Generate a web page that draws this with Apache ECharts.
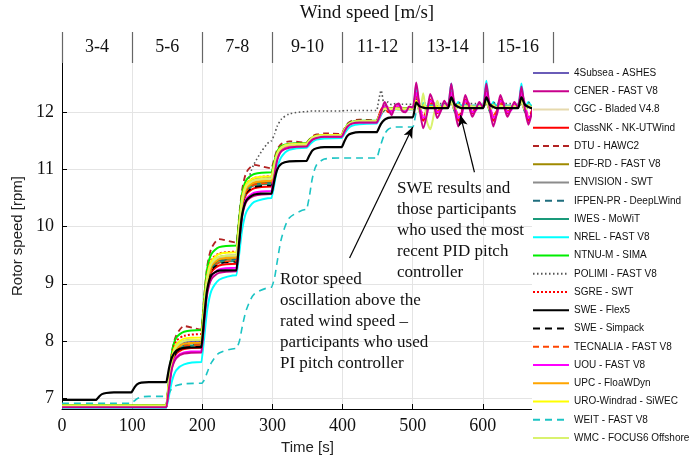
<!DOCTYPE html>
<html><head><meta charset="utf-8">
<script src="https://cdn.jsdelivr.net/npm/echarts@6/dist/echarts.min.js"></script>
<style>html,body{margin:0;padding:0;background:#fff}#c{width:698px;height:462px}</style>
</head><body><div id="c"></div>
<script>
// ---------- data ----------
const T_LOW = [0,3,7,13,24,49, 50,53,57,63,74,99, 100,103,107,113,124,149,
 150,153,157,163,174,199, 200,203,207,213,224,249, 250,253,257,263,274,299,
 300,303,307,313,324,349, 350,353,357,363,374,399, 400,403,407,413,424,449];
const T_HIGH = [450,455,460,465,470,475,480,485,490,495,500,505,510,515,520,525,530,535,540,545,550,
 555,560,565,570,575,580,585,590,595,600,605,610,615,620,625,630,635,640,645,650,
 655,660,665,670,675,680,685,690,695,700];
const WIND_BINS = ['3-4','5-6','7-8','9-10','11-12','13-14','15-16'];
const Y_TICKS = [7,8,9,10,11,12];
const NAMES = ['4Subsea - ASHES','CENER - FAST V8','CGC - Bladed V4.8','ClassNK - NK-UTWind','DTU - HAWC2',
 'EDF-RD - FAST V8','ENVISION - SWT','IFPEN-PR - DeepLWind','IWES - MoWiT','NREL - FAST V8','NTNU-M - SIMA',
 'POLIMI - FAST V8','SGRE - SWT','SWE - Flex5','SWE - Simpack','TECNALIA - FAST V8','UOU - FAST V8',
 'UPC - FloaWDyn','URO-Windrad - SiWEC','WEIT - FAST V8','WMC - FOCUS6 Offshore'];

const S_4SUBSEA = [
 6.87,6.87,6.87,6.87,6.87,6.87, 6.87,6.87,6.87,6.87,6.87,6.87, 6.87,6.87,6.87,6.87,6.87,6.87,
 6.87,7.32,7.68,7.89,7.98,8.00, 8.00,8.58,9.04,9.31,9.42,9.45, 9.45,9.99,10.42,10.67,10.77,10.80,
 10.80,11.05,11.25,11.37,11.42,11.43, 11.43,11.49,11.54,11.57,11.58,11.58, 11.58,11.68,11.76,11.81,11.83,11.83,
 11.83,11.98,12.05,12.07,12.06,12.07,12.06,12.06,12.06,12.06,12.06,
 12.16,12.06,12.11,12.08,12.10,12.09,12.10,12.10,12.10,12.10,
 12.17,12.06,12.12,12.09,12.10,12.10,12.10,12.10,12.10,12.10,
 12.17,12.06,12.12,12.09,12.10,12.10,12.10,12.10,12.10,12.10,
 12.17,12.06,12.12,12.09,12.10,12.10,12.10,12.10,12.10,12.10];
const S_CENER = [
 6.84,6.84,6.84,6.84,6.84,6.84, 6.84,6.84,6.84,6.84,6.84,6.84, 6.84,6.84,6.84,6.84,6.84,6.84,
 6.84,7.22,7.53,7.70,7.78,7.80, 7.80,8.37,8.82,9.08,9.19,9.22, 9.22,9.76,10.19,10.44,10.54,10.57,
 10.57,10.90,11.17,11.32,11.38,11.40, 11.40,11.47,11.52,11.55,11.57,11.57, 11.57,11.67,11.75,11.80,11.82,11.82,
 11.82,12.00,12.18,12.05,11.95,12.12,12.15,12.02,12.00,12.10,12.08,
 12.52,12.05,11.72,11.95,12.32,12.15,11.90,12.02,12.20,12.10,
 12.50,12.05,11.75,11.98,12.30,12.12,11.92,12.05,12.18,12.08,
 12.50,12.05,11.75,11.98,12.30,12.12,11.92,12.05,12.18,12.08,
 12.45,12.05,11.78,12.00,12.28,12.12,11.94,12.06,12.16,12.08];
const S_CGC = [
 6.86,6.86,6.86,6.86,6.86,6.86, 6.86,6.86,6.86,6.86,6.86,6.86, 6.86,6.86,6.86,6.86,6.86,6.86,
 6.86,7.32,7.70,7.90,8.00,8.02, 8.02,8.60,9.07,9.33,9.45,9.48, 9.48,10.02,10.44,10.69,10.79,10.82,
 10.82,11.07,11.27,11.38,11.43,11.44, 11.44,11.50,11.55,11.58,11.59,11.59, 11.59,11.69,11.77,11.82,11.84,11.84,
 11.84,11.99,12.06,12.05,12.06,12.06,12.05,12.06,12.06,12.06,12.06,
 12.18,12.05,12.12,12.08,12.11,12.09,12.10,12.10,12.10,12.10,
 12.18,12.05,12.12,12.08,12.11,12.09,12.10,12.10,12.10,12.10,
 12.18,12.05,12.12,12.08,12.11,12.09,12.10,12.10,12.10,12.10,
 12.18,12.05,12.12,12.08,12.11,12.09,12.10,12.10,12.10,12.10];
const S_CLASSNK = [
 6.85,6.85,6.85,6.85,6.85,6.85, 6.85,6.85,6.85,6.85,6.85,6.85, 6.85,6.85,6.85,6.85,6.85,6.85,
 6.85,7.26,7.59,7.78,7.86,7.88, 7.88,8.47,8.94,9.20,9.32,9.35, 9.35,9.89,10.32,10.57,10.67,10.70,
 10.70,10.99,11.22,11.35,11.41,11.42, 11.42,11.48,11.53,11.56,11.58,11.58, 11.58,11.68,11.76,11.81,11.83,11.83,
 11.83,12.05,12.10,12.00,12.02,12.10,12.08,12.04,12.06,12.08,12.06,
 12.38,12.05,11.85,12.00,12.22,12.10,11.98,12.05,12.13,12.08,
 12.38,12.05,11.85,12.00,12.22,12.10,11.98,12.05,12.13,12.08,
 12.38,12.05,11.85,12.00,12.22,12.10,11.98,12.05,12.13,12.08,
 12.38,12.05,11.85,12.00,12.22,12.10,11.98,12.05,12.13,12.08];
const S_DTU = [
 6.87,6.87,6.87,6.87,6.87,6.87, 6.87,6.87,6.87,6.87,6.87,6.87, 6.87,6.87,6.87,6.87,6.87,6.87,
 6.87,7.40,7.83,8.10,8.26,8.20, 8.20,8.81,9.30,9.62,9.78,9.72, 9.72,10.24,10.66,10.95,11.08,11.02,
 11.02,11.20,11.35,11.45,11.49,11.47, 11.47,11.53,11.58,11.61,11.63,11.62, 11.62,11.72,11.80,11.85,11.87,11.86,
 11.86,12.00,12.08,12.06,12.07,12.07,12.07,12.07,12.07,12.07,12.07,
 12.20,12.04,12.13,12.08,12.11,12.10,12.10,12.10,12.10,12.10,
 12.20,12.04,12.13,12.08,12.11,12.10,12.10,12.10,12.10,12.10,
 12.20,12.04,12.13,12.08,12.11,12.10,12.10,12.10,12.10,12.10,
 12.20,12.04,12.13,12.08,12.11,12.10,12.10,12.10,12.10,12.10];
const S_EDF = [
 6.86,6.86,6.86,6.86,6.86,6.86, 6.86,6.86,6.86,6.86,6.86,6.86, 6.86,6.86,6.86,6.86,6.86,6.86,
 6.86,7.30,7.65,7.85,7.94,7.96, 7.96,8.55,9.03,9.29,9.41,9.44, 9.44,9.98,10.40,10.65,10.75,10.78,
 10.78,11.04,11.25,11.37,11.42,11.43, 11.43,11.49,11.54,11.57,11.58,11.58, 11.58,11.68,11.76,11.81,11.83,11.83,
 11.83,11.97,12.04,12.06,12.05,12.06,12.05,12.05,12.05,12.05,12.05,
 12.22,12.02,12.14,12.07,12.11,12.09,12.10,12.10,12.10,12.10,
 12.22,12.02,12.14,12.07,12.11,12.09,12.10,12.10,12.10,12.10,
 12.22,12.02,12.14,12.07,12.11,12.09,12.10,12.10,12.10,12.10,
 12.22,12.02,12.14,12.07,12.11,12.09,12.10,12.10,12.10,12.10];
const S_ENVISION = [
 6.87,6.87,6.87,6.87,6.87,6.87, 6.87,6.87,6.87,6.87,6.87,6.87, 6.87,6.87,6.87,6.87,6.87,6.87,
 6.87,7.33,7.70,7.90,8.00,8.02, 8.02,8.61,9.09,9.35,9.47,9.50, 9.50,10.04,10.47,10.72,10.82,10.85,
 10.85,11.09,11.27,11.38,11.43,11.44, 11.44,11.50,11.55,11.58,11.59,11.59, 11.59,11.69,11.77,11.82,11.84,11.84,
 11.84,11.99,12.06,12.07,12.06,12.07,12.06,12.06,12.06,12.06,12.06,
 12.15,12.07,12.11,12.09,12.10,12.10,12.10,12.10,12.10,12.10,
 12.15,12.07,12.11,12.09,12.10,12.10,12.10,12.10,12.10,12.10,
 12.15,12.07,12.11,12.09,12.10,12.10,12.10,12.10,12.10,12.10,
 12.15,12.07,12.11,12.09,12.10,12.10,12.10,12.10,12.10,12.10];
const S_IFPEN = [
 6.86,6.86,6.86,6.86,6.86,6.86, 6.86,6.86,6.86,6.86,6.86,6.86, 6.86,6.86,6.86,6.86,6.86,6.86,
 6.86,7.30,7.64,7.84,7.93,7.95, 7.95,8.54,9.01,9.27,9.39,9.42, 9.42,9.96,10.38,10.63,10.73,10.76,
 10.76,11.02,11.24,11.35,11.41,11.42, 11.42,11.48,11.53,11.56,11.58,11.58, 11.58,11.68,11.76,11.81,11.83,11.83,
 11.83,11.98,12.06,12.05,12.06,12.06,12.06,12.06,12.06,12.06,12.06,
 12.20,12.03,12.13,12.08,12.11,12.09,12.10,12.10,12.10,12.10,
 12.20,12.03,12.13,12.08,12.11,12.09,12.10,12.10,12.10,12.10,
 12.20,12.03,12.13,12.08,12.11,12.09,12.10,12.10,12.10,12.10,
 12.20,12.03,12.13,12.08,12.11,12.09,12.10,12.10,12.10,12.10];
const S_IWES = [
 6.86,6.86,6.86,6.86,6.86,6.86, 6.86,6.86,6.86,6.86,6.86,6.86, 6.86,6.86,6.86,6.86,6.86,6.86,
 6.86,7.28,7.62,7.81,7.90,7.92, 7.92,8.51,8.99,9.25,9.37,9.40, 9.40,9.94,10.37,10.62,10.72,10.75,
 10.75,11.02,11.23,11.35,11.41,11.42, 11.42,11.48,11.53,11.56,11.58,11.58, 11.58,11.68,11.76,11.81,11.83,11.83,
 11.83,11.98,12.05,12.07,12.05,12.06,12.06,12.06,12.06,12.06,12.06,
 12.25,12.00,12.15,12.06,12.12,12.09,12.10,12.10,12.10,12.10,
 12.25,12.00,12.15,12.06,12.12,12.09,12.10,12.10,12.10,12.10,
 12.25,12.00,12.15,12.06,12.12,12.09,12.10,12.10,12.10,12.10,
 12.25,12.00,12.15,12.06,12.12,12.09,12.10,12.10,12.10,12.10];
const S_NREL = [
 6.83,6.83,6.83,6.83,6.83,6.83, 6.83,6.83,6.83,6.83,6.83,6.83, 6.83,6.83,6.83,6.83,6.83,6.83,
 6.83,7.07,7.31,7.49,7.59,7.63, 7.63,8.09,8.54,8.88,9.07,9.15, 9.15,9.56,9.96,10.26,10.43,10.50,
 10.50,10.76,11.03,11.22,11.34,11.38, 11.38,11.43,11.48,11.52,11.54,11.55, 11.55,11.63,11.70,11.76,11.79,11.80,
 11.80,11.95,12.05,12.04,12.05,12.05,12.05,12.05,12.05,12.05,12.05,
 12.45,12.08,12.16,12.10,12.12,12.11,12.11,12.11,12.11,12.11,
 12.50,12.06,12.18,12.10,12.12,12.11,12.11,12.11,12.11,12.11,
 12.55,12.05,12.18,12.10,12.12,12.11,12.11,12.11,12.11,12.11,
 12.50,12.06,12.18,12.10,12.12,12.11,12.11,12.11,12.11,12.11];
const S_NTNU = [
 6.87,6.87,6.87,6.87,6.87,6.87, 6.87,6.87,6.87,6.87,6.87,6.87, 6.87,6.87,6.87,6.87,6.87,6.87,
 6.87,7.40,7.82,8.06,8.16,8.19, 8.19,8.78,9.26,9.52,9.64,9.67, 9.67,10.18,10.59,10.82,10.92,10.95,
 10.95,11.15,11.32,11.41,11.45,11.46, 11.46,11.52,11.56,11.59,11.60,11.60, 11.60,11.70,11.78,11.83,11.85,11.85,
 11.85,12.00,12.07,12.06,12.07,12.07,12.07,12.07,12.07,12.07,12.07,
 12.18,12.06,12.12,12.09,12.10,12.10,12.10,12.10,12.10,12.10,
 12.18,12.06,12.12,12.09,12.10,12.10,12.10,12.10,12.10,12.10,
 12.18,12.06,12.12,12.09,12.10,12.10,12.10,12.10,12.10,12.10,
 12.18,12.06,12.12,12.09,12.10,12.10,12.10,12.10,12.10,12.10];
const S_POLIMI = [
 6.85,6.85,6.85,6.85,6.85,6.85, 6.85,6.85,6.85,6.85,6.85,6.85, 6.85,6.85,6.85,6.85,6.85,6.85,
 6.85,7.30,7.66,7.87,7.96,7.98, 7.98,8.57,9.04,9.30,9.42,9.45, 9.45,9.95,10.35,10.70,11.10,11.50,
 11.50,11.62,11.76,11.88,11.97,12.01, 12.01,12.02,12.02,12.02,12.02,12.02, 12.02,12.03,12.03,12.03,12.03,12.03,
 12.03,12.38,12.10,12.18,12.13,12.15,12.14,12.14,12.14,12.14,12.14,
 12.25,12.12,12.17,12.15,12.15,12.15,12.15,12.15,12.15,12.15,
 12.25,12.12,12.17,12.15,12.15,12.15,12.15,12.15,12.15,12.15,
 12.25,12.12,12.17,12.15,12.15,12.15,12.15,12.15,12.15,12.15,
 12.25,12.12,12.17,12.15,12.15,12.15,12.15,12.15,12.15,12.15];
const S_SGRE = [
 6.86,6.86,6.86,6.86,6.86,6.86, 6.86,6.86,6.86,6.86,6.86,6.86, 6.86,6.86,6.86,6.86,6.86,6.86,
 6.86,7.36,7.77,8.00,8.09,8.12, 8.12,8.70,9.16,9.42,9.53,9.56, 9.56,10.09,10.51,10.75,10.85,10.88,
 10.88,11.11,11.29,11.39,11.44,11.45, 11.45,11.51,11.56,11.59,11.60,11.60, 11.60,11.70,11.77,11.82,11.84,11.84,
 11.84,12.02,12.08,12.02,12.04,12.08,12.06,12.05,12.06,12.07,12.06,
 12.30,12.08,11.92,12.02,12.18,12.10,12.00,12.06,12.12,12.08,
 12.30,12.08,11.92,12.02,12.18,12.10,12.00,12.06,12.12,12.08,
 12.30,12.08,11.92,12.02,12.18,12.10,12.00,12.06,12.12,12.08,
 12.30,12.08,11.92,12.02,12.18,12.10,12.00,12.06,12.12,12.08];
const S_SWE_FLEX5 = [
 6.97,6.97,6.97,6.97,6.97,6.97, 6.97,7.03,7.07,7.09,7.10,7.10, 7.10,7.18,7.24,7.27,7.28,7.28,
 7.28,7.55,7.72,7.83,7.88,7.89, 7.89,8.45,8.90,9.15,9.23,9.24, 9.24,9.78,10.22,10.46,10.56,10.58,
 10.58,10.82,11.00,11.10,11.14,11.15, 11.15,11.25,11.33,11.37,11.39,11.39, 11.39,11.50,11.59,11.63,11.65,11.65,
 11.65,11.80,11.87,11.90,11.91,11.91,11.91,11.91,11.91,11.91,11.91,
 12.17,12.10,12.08,12.07,12.07,12.07,12.07,12.07,12.07,12.07,
 12.26,12.13,12.09,12.07,12.07,12.07,12.07,12.07,12.07,12.07,
 12.26,12.13,12.09,12.07,12.07,12.07,12.07,12.07,12.07,12.07,
 12.26,12.13,12.09,12.07,12.07,12.07,12.07,12.07,12.07,12.07];
const S_SWE_SIMPACK = [
 6.86,6.86,6.86,6.86,6.86,6.86, 6.86,6.86,6.86,6.86,6.86,6.86, 6.86,6.86,6.86,6.86,6.86,6.86,
 6.86,7.28,7.61,7.80,7.88,7.90, 7.90,8.49,8.97,9.23,9.35,9.38, 9.38,9.92,10.34,10.59,10.69,10.72,
 10.72,11.00,11.22,11.35,11.41,11.42, 11.42,11.48,11.53,11.56,11.58,11.58, 11.58,11.68,11.76,11.81,11.83,11.83,
 11.83,11.98,12.04,12.05,12.05,12.05,12.05,12.05,12.05,12.05,12.05,
 12.24,12.12,12.08,12.07,12.07,12.07,12.07,12.07,12.07,12.07,
 12.24,12.12,12.08,12.07,12.07,12.07,12.07,12.07,12.07,12.07,
 12.24,12.12,12.08,12.07,12.07,12.07,12.07,12.07,12.07,12.07,
 12.24,12.12,12.08,12.07,12.07,12.07,12.07,12.07,12.07,12.07];
const S_TECNALIA = [
 6.86,6.86,6.86,6.86,6.86,6.86, 6.86,6.86,6.86,6.86,6.86,6.86, 6.86,6.86,6.86,6.86,6.86,6.86,
 6.86,7.29,7.63,7.82,7.91,7.93, 7.93,8.52,8.99,9.25,9.37,9.40, 9.40,9.94,10.38,10.62,10.73,10.76,
 10.76,11.02,11.24,11.35,11.41,11.42, 11.42,11.48,11.53,11.56,11.58,11.58, 11.58,11.68,11.76,11.81,11.83,11.83,
 11.83,12.00,12.06,12.03,12.05,12.07,12.06,12.06,12.06,12.06,12.06,
 12.26,12.10,11.95,12.03,12.15,12.10,12.02,12.07,12.11,12.09,
 12.26,12.10,11.95,12.03,12.15,12.10,12.02,12.07,12.11,12.09,
 12.26,12.10,11.95,12.03,12.15,12.10,12.02,12.07,12.11,12.09,
 12.26,12.10,11.95,12.03,12.15,12.10,12.02,12.07,12.11,12.09];
const S_UOU = [
 6.85,6.85,6.85,6.85,6.85,6.85, 6.85,6.85,6.85,6.85,6.85,6.85, 6.85,6.85,6.85,6.85,6.85,6.85,
 6.85,7.24,7.55,7.72,7.80,7.82, 7.82,8.40,8.87,9.13,9.25,9.28, 9.28,9.82,10.24,10.49,10.59,10.62,
 10.62,10.94,11.19,11.33,11.39,11.41, 11.41,11.48,11.53,11.56,11.57,11.57, 11.57,11.67,11.75,11.80,11.82,11.82,
 11.82,11.97,12.10,12.08,12.00,12.06,12.12,12.07,12.04,12.08,12.07,
 12.34,12.14,11.90,11.96,12.20,12.16,12.00,12.03,12.13,12.10,
 12.34,12.14,11.90,11.96,12.20,12.16,12.00,12.03,12.13,12.10,
 12.34,12.14,11.90,11.96,12.20,12.16,12.00,12.03,12.13,12.10,
 12.34,12.14,11.90,11.96,12.20,12.16,12.00,12.03,12.13,12.10];
const S_UPC = [
 6.86,6.86,6.86,6.86,6.86,6.86, 6.86,6.86,6.86,6.86,6.86,6.86, 6.86,6.86,6.86,6.86,6.86,6.86,
 6.86,7.30,7.66,7.86,7.95,7.97, 7.97,8.57,9.04,9.31,9.43,9.46, 9.46,10.00,10.42,10.67,10.77,10.80,
 10.80,11.05,11.25,11.37,11.42,11.43, 11.43,11.49,11.54,11.57,11.58,11.58, 11.58,11.68,11.76,11.81,11.83,11.83,
 11.83,11.99,12.06,12.05,12.06,12.06,12.06,12.06,12.06,12.06,12.06,
 12.19,12.05,12.12,12.08,12.11,12.09,12.10,12.10,12.10,12.10,
 12.19,12.05,12.12,12.08,12.11,12.09,12.10,12.10,12.10,12.10,
 12.19,12.05,12.12,12.08,12.11,12.09,12.10,12.10,12.10,12.10,
 12.19,12.05,12.12,12.08,12.11,12.09,12.10,12.10,12.10,12.10];
const S_URO = [
 6.87,6.87,6.87,6.87,6.87,6.87, 6.87,6.87,6.87,6.87,6.87,6.87, 6.87,6.87,6.87,6.87,6.87,6.87,
 6.87,7.35,7.73,7.94,8.04,8.06, 8.06,8.66,9.13,9.40,9.52,9.55, 9.55,10.08,10.51,10.75,10.85,10.88,
 10.88,11.11,11.29,11.39,11.44,11.45, 11.45,11.51,11.56,11.59,11.60,11.60, 11.60,11.70,11.77,11.82,11.84,11.84,
 11.84,12.00,12.06,12.07,12.06,12.07,12.06,12.06,12.06,12.06,12.06,
 12.20,12.04,12.13,12.08,12.11,12.10,12.10,12.10,12.10,12.10,
 12.20,12.04,12.13,12.08,12.11,12.10,12.10,12.10,12.10,12.10,
 12.20,12.04,12.13,12.08,12.11,12.10,12.10,12.10,12.10,12.10,
 12.20,12.04,12.13,12.08,12.11,12.10,12.10,12.10,12.10,12.10];
const S_WEIT = [
 6.91,6.91,6.91,6.91,6.91,6.91, 6.91,6.91,6.91,6.91,6.91,6.91, 6.91,6.95,6.99,7.02,7.03,7.03,
 7.03,7.10,7.17,7.22,7.25,7.26, 7.26,7.32,7.45,7.62,7.79,7.87, 7.87,8.00,8.25,8.55,8.82,8.94,
 8.94,9.10,9.40,9.80,10.15,10.30, 10.30,10.55,10.85,11.08,11.18,11.20, 11.20,11.20,11.20,11.20,11.20,11.20,
 11.20,11.45,11.62,11.70,11.73,11.74,11.74,11.74,11.74,11.74,11.74,
 12.00,12.10,12.13,12.12,12.12,12.12,12.12,12.12,12.12,12.12,
 12.20,12.14,12.12,12.12,12.12,12.12,12.12,12.12,12.12,12.12,
 12.20,12.14,12.12,12.12,12.12,12.12,12.12,12.12,12.12,12.12,
 12.20,12.14,12.12,12.12,12.12,12.12,12.12,12.12,12.12,12.12];
const S_WMC = [
 6.86,6.86,6.86,6.86,6.86,6.86, 6.86,6.86,6.86,6.86,6.86,6.86, 6.86,6.86,6.86,6.86,6.86,6.86,
 6.86,7.32,7.70,7.90,8.00,8.02, 8.02,8.61,9.09,9.35,9.47,9.50, 9.50,10.04,10.46,10.71,10.81,10.84,
 10.84,11.08,11.27,11.38,11.43,11.44, 11.44,11.50,11.55,11.58,11.59,11.59, 11.59,11.69,11.77,11.82,11.84,11.84,
 11.84,11.99,12.06,12.05,12.06,12.06,12.06,12.06,12.06,12.06,12.06,
 12.15,12.00,12.33,11.85,11.70,11.95,12.20,12.05,12.12,12.10,
 12.18,12.05,12.12,12.08,12.11,12.09,12.10,12.10,12.10,12.10,
 12.18,12.05,12.12,12.08,12.11,12.09,12.10,12.10,12.10,12.10,
 12.18,12.05,12.12,12.08,12.11,12.09,12.10,12.10,12.10,12.10];

const VALUES = [S_4SUBSEA,S_CENER,S_CGC,S_CLASSNK,S_DTU,S_EDF,S_ENVISION,S_IFPEN,S_IWES,S_NREL,S_NTNU,
 S_POLIMI,S_SGRE,S_SWE_FLEX5,S_SWE_SIMPACK,S_TECNALIA,S_UOU,S_UPC,S_URO,S_WEIT,S_WMC];

// annotation arrows (data coordinates: [time, rpm])
const ARROW_PI = [[410, 9.45], [500, 11.74]];
const ARROW_PID = [[588, 10.95], [568, 11.95]];

// ---------- styles ----------
const STYLES = [
 {c:'#6a5cb8', t:'solid', w:2, z:2},
 {c:'#c8008c', t:'solid', w:2, z:3},
 {c:'#e6d9ad', t:'solid', w:2, z:2},
 {c:'#ff0000', t:'solid', w:2, z:2},
 {c:'#b22222', t:[6,4], w:1.8, z:2},
 {c:'#a08a00', t:'solid', w:2, z:2},
 {c:'#8c8c8c', t:'solid', w:2, z:2},
 {c:'#1f6e7e', t:[7,5], w:1.8, z:2},
 {c:'#1a9a7a', t:'solid', w:2, z:2},
 {c:'#00ffff', t:'solid', w:2, z:2},
 {c:'#00ee00', t:'solid', w:2, z:2},
 {c:'#555555', t:[1.5,2.5], w:1.6, z:2},
 {c:'#ff0000', t:[2,2], w:2, z:2},
 {c:'#000000', t:'solid', w:2.2, z:4},
 {c:'#000000', t:[7,5], w:1.6, z:2},
 {c:'#ff4500', t:[6,4], w:1.6, z:2},
 {c:'#ff00ff', t:'solid', w:2, z:2},
 {c:'#ffa500', t:'solid', w:2, z:2},
 {c:'#ffff00', t:'solid', w:2, z:2},
 {c:'#1cc4c4', t:[7,5], w:1.6, z:2},
 {c:'#d9f26e', t:'solid', w:2, z:2}
];

const TIME = T_LOW.concat(T_HIGH);
const serif = 'Liberation Serif';
const sans = 'Liberation Sans';

const series = NAMES.map((n, i) => ({
  name: n, type: 'line', symbol: 'none', showSymbol: false, smooth: 0.25,
  data: TIME.map((t, k) => [t, VALUES[i][k]]),
  lineStyle: {color: STYLES[i].c, width: STYLES[i].w, type: STYLES[i].t},
  itemStyle: {color: STYLES[i].c},
  z: STYLES[i].z,
  silent: true, animation: false
}));
series.push({
  name: 'arrows', type: 'line', data: [], silent: true, animation: false,
  markLine: {
    silent: true, symbol: ['none', 'arrow'], symbolSize: [7, 11],
    label: {show: false},
    lineStyle: {color: '#000', width: 1.2, type: 'solid'},
    data: [
      [{coord: ARROW_PI[0]}, {coord: ARROW_PI[1]}],
      [{coord: ARROW_PID[0]}, {coord: ARROW_PID[1]}]
    ]
  }
});

const chart = echarts.init(document.getElementById('c'), null, {renderer: 'canvas'});
chart.setOption({
  animation: false,
  backgroundColor: '#fff',
  grid: {left: 62, right: 145, top: 63, bottom: 53},
  xAxis: [{
    type: 'value', min: 0, max: 700, interval: 100,
    name: 'Time [s]', nameLocation: 'middle', nameGap: 31,
    nameTextStyle: {fontFamily: sans, fontSize: 15, color: '#222'},
    axisLine: {lineStyle: {color: '#000', width: 1}},
    axisTick: {inside: true, length: 5, lineStyle: {color: '#000'}},
    axisLabel: {fontFamily: serif, fontSize: 18, color: '#111', margin: 8},
    splitLine: {show: true, lineStyle: {color: '#e4e4e4', width: 1}}
  }, {
    type: 'category', position: 'top', data: WIND_BINS, boundaryGap: true,
    axisLine: {show: false},
    axisTick: {show: true, inside: false, length: 31, interval: 0, lineStyle: {color: '#666', width: 1.2}},
    axisLabel: {fontFamily: serif, fontSize: 18, color: '#111', margin: 7, interval: 0},
    splitLine: {show: false}
  }],
  yAxis: {
    type: 'value', min: 6.81, max: 12.86,
    name: 'Rotor speed [rpm]', nameLocation: 'middle', nameGap: 32,
    nameTextStyle: {fontFamily: sans, fontSize: 15, color: '#222'},
    axisLine: {show: true, lineStyle: {color: '#000', width: 1}},
    axisTick: {show: true, inside: true, length: 5, customValues: Y_TICKS, lineStyle: {color: '#000'}},
    axisLabel: {fontFamily: serif, fontSize: 18, color: '#111', margin: 8, customValues: Y_TICKS},
    splitLine: {show: true, lineStyle: {color: '#e4e4e4', width: 1}}
  },
  legend: {
    orient: 'vertical', left: 532, top: 67, padding: 0, z: 20,
    itemWidth: 36, itemHeight: 12, itemGap: 6.25,
    itemStyle: {opacity: 0},
    textStyle: {fontFamily: sans, fontSize: 10, color: '#111', lineHeight: 12},
    data: NAMES
  },
  graphic: [
    {type: 'rect', z: 10, silent: true, shape: {x: 532, y: 64, width: 170, height: 400}, style: {fill: '#fff'}},
    {type: 'text', z: 10, x: 367, y: 13, silent: true,
     style: {text: 'Wind speed [m/s]', font: '19px "Liberation Serif"', fill: '#111', textAlign: 'center', textVerticalAlign: 'middle'}},
    {type: 'text', z: 10, x: 397, y: 178, silent: true,
     style: {text: 'SWE results and\nthose participants\nwho used the most\nrecent PID pitch\ncontroller', font: '17px "Liberation Serif"', lineHeight: 21, fill: '#111'}},
    {type: 'text', z: 10, x: 280, y: 269, silent: true,
     style: {text: 'Rotor speed\noscillation above the\nrated wind speed \u2013\nparticipants who used\nPI pitch controller', font: '17px "Liberation Serif"', lineHeight: 21, fill: '#111'}}
  ],
  series: series
});
</script></body></html>
